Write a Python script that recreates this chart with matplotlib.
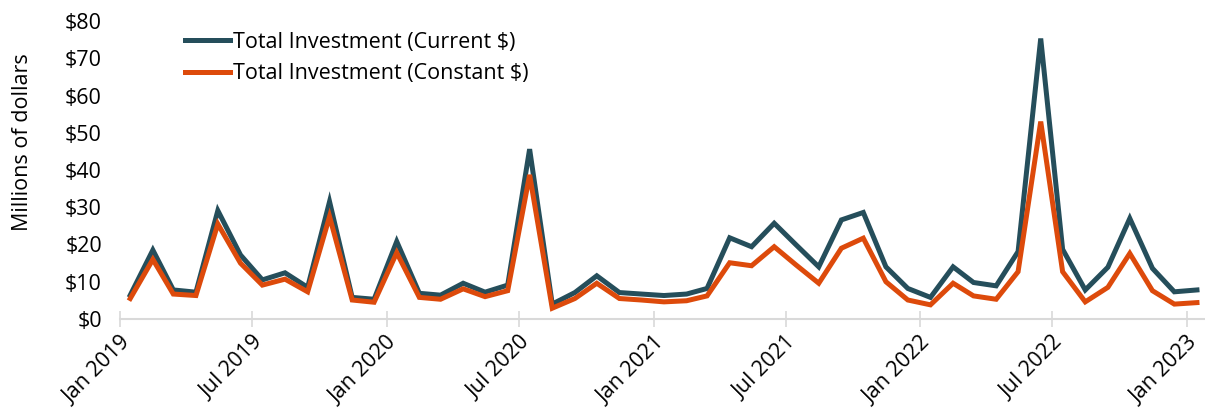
import matplotlib
matplotlib.use("Agg")
from matplotlib import pyplot as plt
import matplotlib.dates as mdates
import matplotlib.transforms as mtransforms
import pandas as pd

# monthly totals, millions of dollars (Jan 2019 .. Jan 2023)
months = pd.date_range("2019-01-01", periods=49, freq="MS") + pd.Timedelta(days=14)

current = [6.4, 18.5, 7.8, 7.2, 29.1, 17.2, 10.5, 12.4, 8.5, 31.5, 5.8, 5.3,
           20.8, 6.9, 6.4, 9.6, 7.2, 9.1, 45.6, 4.0, 7.1, 11.6, 7.1, 6.7,
           6.3, 6.7, 8.2, 21.8, 19.4, 25.7, 19.9, 14.0, 26.6, 28.6, 14.0, 8.2,
           5.8, 14.0, 9.8, 8.9, 18.1, 75.3, 18.7, 7.8, 13.9, 27.0, 13.6, 7.3,
           7.8]
constant = [5.5, 16.0, 6.7, 6.3, 25.5, 15.0, 9.1, 10.7, 7.3, 27.5, 5.1, 4.5,
            17.8, 5.8, 5.3, 8.1, 6.0, 7.6, 38.7, 2.9, 5.5, 9.6, 5.5, 5.1,
            4.6, 4.9, 6.2, 15.1, 14.3, 19.4, 14.5, 9.6, 19.0, 21.7, 10.0, 5.1,
            3.8, 9.6, 6.2, 5.3, 12.7, 53.0, 12.7, 4.6, 8.5, 17.6, 7.6, 4.0,
            4.4]

series_labels = ["Total Investment (Current $)", "Total Investment (Constant $)"]
y_ticks = [0, 10, 20, 30, 40, 50, 60, 70, 80]

plt.rcParams["font.family"] = ["Open Sans", "DejaVu Sans"]
fs = 15.5

fig = plt.figure(figsize=(12.05, 4.17), dpi=100)
ax = fig.add_axes([120 / 1205, 1 - 319 / 417, 1 - 120 / 1205, 298 / 417])

ax.plot(months, current, color="#254e5b", lw=3.6, label=series_labels[0],
        solid_joinstyle="miter")
ax.plot(months, constant, color="#dd4a0b", lw=3.6, label=series_labels[1],
        solid_joinstyle="miter")

ax.set_ylim(0, 80)
ax.set_yticks(y_ticks)
ax.set_yticklabels(["$" + str(v) for v in y_ticks])
ax.set_xlim(pd.Timestamp("2019-01-01"), pd.Timestamp("2023-01-26"))

ax.xaxis.set_major_locator(mdates.MonthLocator(bymonth=[1, 7]))
ax.xaxis.set_major_formatter(mdates.DateFormatter("%b %Y"))
shift = mtransforms.ScaledTranslation(13 / 100, -8 / 100, fig.dpi_scale_trans)
for lab in ax.get_xticklabels():
    lab.set_rotation(45)
    lab.set_ha("right")
    lab.set_rotation_mode("anchor")
    lab.set_transform(lab.get_transform() + shift)

for side in ["top", "right", "left"]:
    ax.spines[side].set_visible(False)
ax.spines["bottom"].set_color("#d9d9d9")
ax.spines["bottom"].set_linewidth(1.5)

ax.tick_params(axis="y", length=0, labelsize=fs, pad=13)
ax.tick_params(axis="x", direction="inout", length=11, width=1.2,
               color="#d9d9d9", labelsize=fs, pad=4)

fig.text(23 / 1205, 1 - 142 / 417, "Millions of dollars", rotation=90,
         ha="center", va="center", fontsize=fs)

ax.legend(loc="upper left", bbox_to_anchor=(176 / 1205, 1 - 23 / 417),
          bbox_transform=fig.transFigure, frameon=False, fontsize=fs,
          handlelength=2.1, handletextpad=0.15, labelspacing=0.5,
          borderaxespad=0)

fig.savefig("out.png", dpi=100)
plt.close()
